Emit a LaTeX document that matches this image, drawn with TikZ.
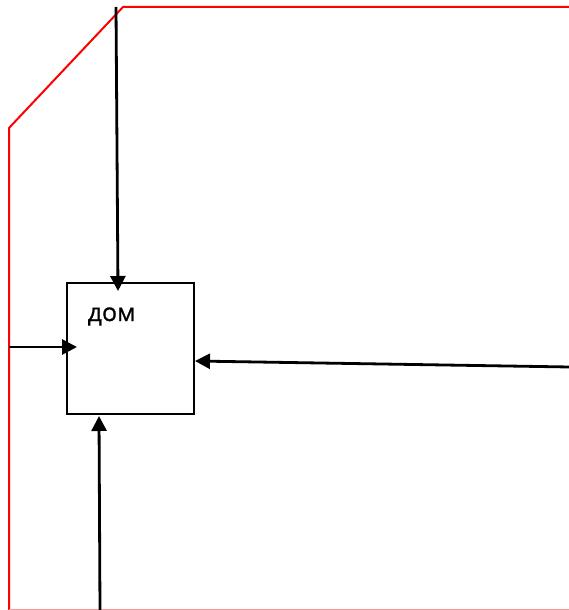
\documentclass[tikz,border=0pt]{standalone}
\usepackage{fontspec}
\newfontfamily\labelfont[FakeBold=0.8]{Open Sans}
\usetikzlibrary{arrows.meta}
\begin{document}
\begin{tikzpicture}[x=1pt,y=-1pt,
  frame/.style={draw=red,line width=2pt},
  flow/.style={draw=black,line width=2.8pt,-{Triangle[length=15pt,width=15pt]}},
  unit/.style={draw=black,line width=2pt,minimum width=127pt,minimum height=131pt,inner sep=0pt}]
\useasboundingbox (0,0) rectangle (569,610);
\node[unit] (box) at (130.5,348.5) {};
\node[font=\labelfont\fontsize{25}{30}\selectfont,anchor=base west,inner sep=0pt] (lbl) at (87.5,321) {дом};
\draw[frame] (9,612) -- (9,128) -- (123,7) -- (571,7);
\draw[red!40,line width=1.2pt] (9,609.5) -- (571,609.5);
\coordinate (topin) at (116,7);
\coordinate (topend) at (118,291);
\coordinate (leftin) at (9,347);
\coordinate (leftend) at (77,347);
\coordinate (rightin) at (570,367);
\coordinate (rightend) at (195,361);
\coordinate (botin) at (100,611);
\coordinate (botend) at (99,416);
\draw[flow] (topin) -- (topend);
\draw[flow] (leftin) -- (leftend);
\draw[flow] (rightin) -- (rightend);
\draw[flow] (botin) -- (botend);
\end{tikzpicture}
\end{document}
